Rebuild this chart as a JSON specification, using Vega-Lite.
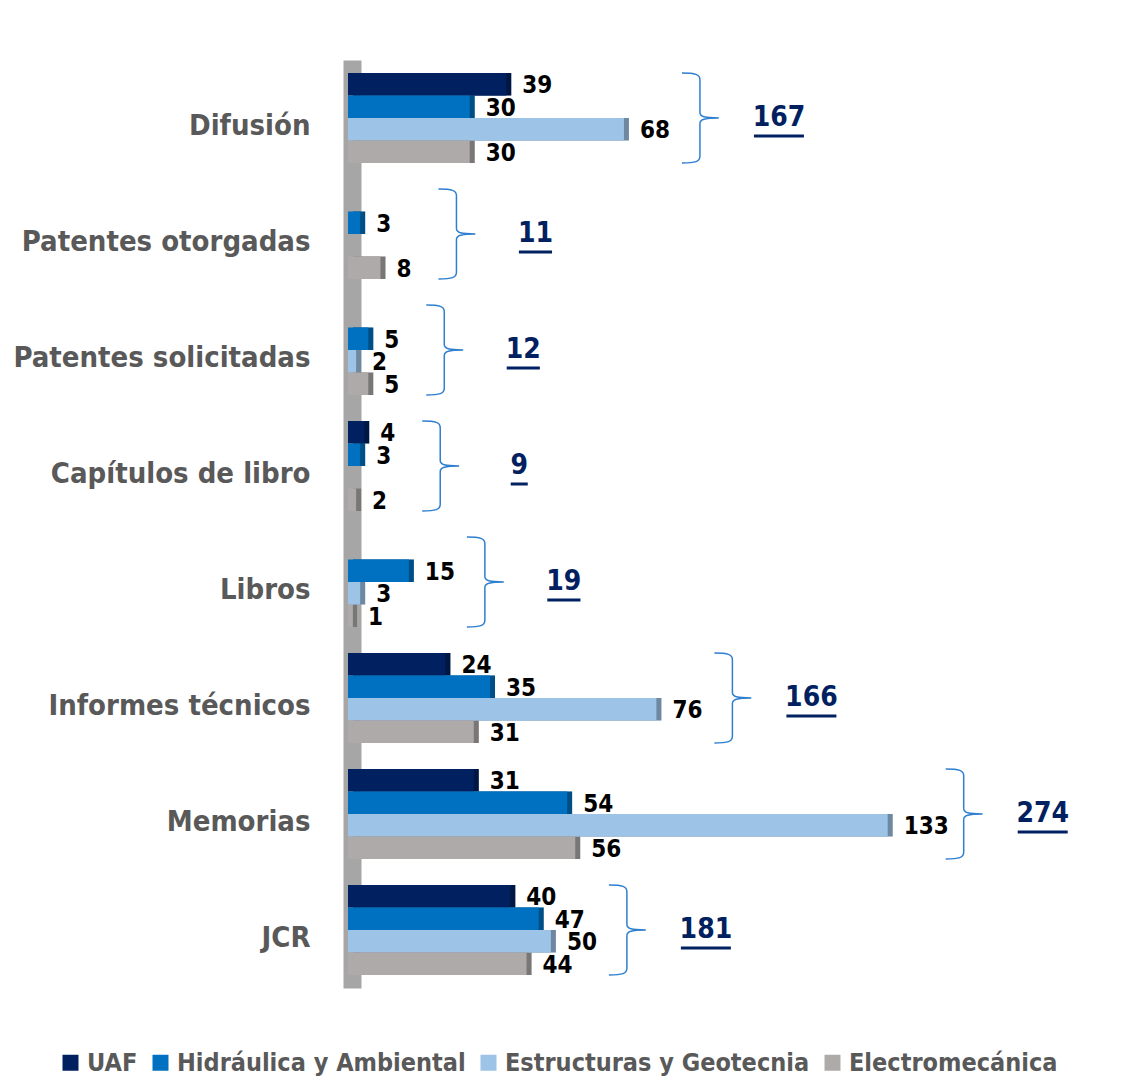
{
  "$schema": "https://vega.github.io/schema/vega-lite/v6.json",
  "width": 771,
  "height": 928,
  "autosize": {"type": "none"},
  "padding": {"left": 348, "top": 60, "right": 3, "bottom": 91},
  "background": "white",
  "config": {
    "view": {"stroke": null},
    "font": "DejaVu Sans Condensed, Liberation Sans, sans-serif"
  },
  "data": {
    "values": [
      {"categoria": "Difusión", "serie": "UAF", "valor": 39},
      {"categoria": "Difusión", "serie": "Hidráulica y Ambiental", "valor": 30},
      {"categoria": "Difusión", "serie": "Estructuras y Geotecnia", "valor": 68},
      {"categoria": "Difusión", "serie": "Electromecánica", "valor": 30},
      {"categoria": "Patentes otorgadas", "serie": "Hidráulica y Ambiental", "valor": 3},
      {"categoria": "Patentes otorgadas", "serie": "Electromecánica", "valor": 8},
      {"categoria": "Patentes solicitadas", "serie": "Hidráulica y Ambiental", "valor": 5},
      {"categoria": "Patentes solicitadas", "serie": "Estructuras y Geotecnia", "valor": 2},
      {"categoria": "Patentes solicitadas", "serie": "Electromecánica", "valor": 5},
      {"categoria": "Capítulos de libro", "serie": "UAF", "valor": 4},
      {"categoria": "Capítulos de libro", "serie": "Hidráulica y Ambiental", "valor": 3},
      {"categoria": "Capítulos de libro", "serie": "Electromecánica", "valor": 2},
      {"categoria": "Libros", "serie": "Hidráulica y Ambiental", "valor": 15},
      {"categoria": "Libros", "serie": "Estructuras y Geotecnia", "valor": 3},
      {"categoria": "Libros", "serie": "Electromecánica", "valor": 1},
      {"categoria": "Informes técnicos", "serie": "UAF", "valor": 24},
      {"categoria": "Informes técnicos", "serie": "Hidráulica y Ambiental", "valor": 35},
      {"categoria": "Informes técnicos", "serie": "Estructuras y Geotecnia", "valor": 76},
      {"categoria": "Informes técnicos", "serie": "Electromecánica", "valor": 31},
      {"categoria": "Memorias", "serie": "UAF", "valor": 31},
      {"categoria": "Memorias", "serie": "Hidráulica y Ambiental", "valor": 54},
      {"categoria": "Memorias", "serie": "Estructuras y Geotecnia", "valor": 133},
      {"categoria": "Memorias", "serie": "Electromecánica", "valor": 56},
      {"categoria": "JCR", "serie": "UAF", "valor": 40},
      {"categoria": "JCR", "serie": "Hidráulica y Ambiental", "valor": 47},
      {"categoria": "JCR", "serie": "Estructuras y Geotecnia", "valor": 50},
      {"categoria": "JCR", "serie": "Electromecánica", "valor": 44}
    ]
  },
  "encoding": {
    "y": {
      "field": "categoria",
      "type": "nominal",
      "sort": ["Difusión", "Patentes otorgadas", "Patentes solicitadas", "Capítulos de libro", "Libros", "Informes técnicos", "Memorias", "JCR"],
      "scale": {"paddingInner": 0.224, "paddingOuter": 0.112},
      "axis": {
        "title": null,
        "domain": true,
        "domainColor": "#a6a6a6",
        "domainWidth": 18,
        "offset": -4,
        "ticks": false,
        "grid": false,
        "labelFontSize": 29,
        "labelFontWeight": "bold",
        "labelColor": "#595959",
        "labelPadding": 42,
        "labelOffset": 8,
        "labelLimit": 400
      }
    },
    "x": {"field": "valor", "type": "quantitative", "scale": {"domain": [0, 190]}, "axis": null},
    "yOffset": {"field": "serie", "type": "nominal", "scale": {"domain": ["UAF", "Hidráulica y Ambiental", "Estructuras y Geotecnia", "Electromecánica"], "paddingInner": 0, "paddingOuter": 0}}
  },
  "layer": [
    {
      "mark": {"type": "bar", "xOffset": 5, "x2Offset": 5, "yOffset": -4, "y2Offset": -4},
      "encoding": {
        "color": {
          "field": "serie",
          "type": "nominal",
          "scale": {"domain": ["UAF", "Hidráulica y Ambiental", "Estructuras y Geotecnia", "Electromecánica"], "range": ["#002060", "#0070c0", "#9dc3e6", "#aeaaaa"]},
          "legend": {
            "orient": "none",
            "legendX": -290,
            "legendY": 990,
            "direction": "horizontal",
            "title": null,
            "symbolType": "square",
            "symbolSize": 256,
            "symbolStrokeWidth": 0,
            "symbolOpacity": 1,
            "labelFontSize": 25,
            "labelFontWeight": "bold",
            "labelColor": "#595959",
            "labelOffset": 4,
            "columnPadding": 10,
            "labelLimit": 600
          }
        }
      }
    },
    {
      "mark": {"type": "bar", "color": "#000000", "opacity": 0.3, "xOffset": 5, "x2Offset": 5, "yOffset": -4, "y2Offset": -4}
    },
    {
      "mark": {"type": "bar"},
      "encoding": {
        "color": {"field": "serie", "type": "nominal"}
      }
    },
    {
      "mark": {"type": "text", "align": "left", "baseline": "middle", "dx": 16, "dy": 2, "fontSize": 24, "fontWeight": "bold", "color": "#000000"},
      "encoding": {
        "text": {"field": "valor", "type": "quantitative"}
      }
    },
    {
      "transform": [{"aggregate": [{"op": "sum", "field": "valor", "as": "total"}, {"op": "max", "field": "valor", "as": "maximo"}], "groupby": ["categoria"]}],
      "mark": {"type": "point", "shape": "M0,-1 C0.3,-1 0.4,-0.97 0.4,-0.85 L0.4,-0.12 C0.4,-0.03 0.5,0 0.82,0 C0.5,0 0.4,0.03 0.4,0.12 L0.4,0.85 C0.4,0.97 0.3,1 0,1", "size": 8100, "filled": false, "stroke": "#2f7fcf", "strokeWidth": 1.5, "opacity": 1, "xOffset": 58},
      "encoding": {
        "x": {"field": "maximo", "type": "quantitative"},
        "yOffset": null
      }
    },
    {
      "transform": [{"aggregate": [{"op": "sum", "field": "valor", "as": "total"}, {"op": "max", "field": "valor", "as": "maximo"}], "groupby": ["categoria"]}],
      "mark": {"type": "text", "align": "center", "baseline": "middle", "dx": 155, "fontSize": 28, "fontWeight": "bold", "color": "#002060"},
      "encoding": {
        "x": {"field": "maximo", "type": "quantitative"},
        "yOffset": null,
        "text": {"field": "total", "type": "quantitative"}
      }
    },
    {
      "transform": [{"aggregate": [{"op": "sum", "field": "valor", "as": "total"}, {"op": "max", "field": "valor", "as": "maximo"}], "groupby": ["categoria"]}],
      "mark": {"type": "point", "shape": "stroke", "filled": false, "stroke": "#002060", "strokeWidth": 3, "opacity": 1, "xOffset": 155, "yOffset": 18},
      "encoding": {
        "x": {"field": "maximo", "type": "quantitative"},
        "yOffset": null,
        "size": {"condition": [{"test": "datum.total >= 100", "value": 2500}, {"test": "datum.total >= 10", "value": 1100}], "value": 290}
      }
    }
  ]
}
